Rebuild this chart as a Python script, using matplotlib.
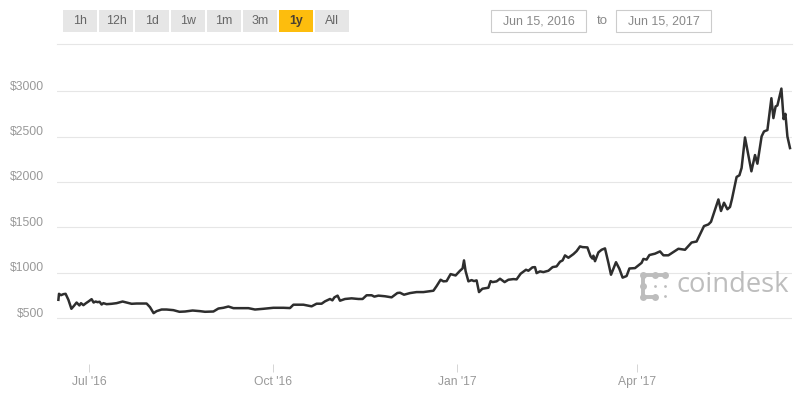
import matplotlib
matplotlib.use("Agg")
import matplotlib.pyplot as plt
import matplotlib.dates as mdates
from matplotlib.patches import Rectangle
from matplotlib.lines import Line2D
from matplotlib.transforms import ScaledTranslation
import numpy as np

plt.rcParams['font.family'] = ['Liberation Sans', 'DejaVu Sans']

# ---- data ----
start_date = "2016-06-15"
end_date_axis_days = 367.5
days_since_start = [
    0.7, 1, 2, 3.2, 4.3, 5.7, 7.2, 8.5, 9.8, 11.2, 12, 13.2, 14.5, 15.7, 17.3, 18.3, 19.3, 20.3, 21.3, 22.3,
    23.2, 24.8, 27.3, 29.8, 32.8, 34.8, 37.3, 39.8, 44.8, 46.5, 48.3, 49.8, 52.3, 54.8, 58.2, 61.2, 64, 67.8,
    71.5, 74, 78.2, 80.7, 83.2, 85.7, 88.2, 91.5, 95.7, 99, 103.2, 108.2, 113.2,
    116.5, 118.2, 123.2, 127.3, 129.8, 132.3, 134, 136.5, 137.7, 138.7, 140.3, 141.5, 144, 147.3, 150.7,
    152.8, 154.8, 157.3, 158.7, 160.7, 164, 167.3, 170.2,
    171.5, 173.5, 176.5, 179.8, 183.2, 188.2, 189.8, 191.8, 193.2, 194.8, 196.8, 199.3, 201.5, 202.8, 203.5,
    204.3, 205.7, 207.3, 208.5, 209.8, 211, 212.7, 215.7, 216.8, 217.8, 219.8, 221.5, 223.8, 225.7, 228.2,
    229.8, 231.8, 234.5, 235.7, 237.7, 239, 239.8, 241.5, 243.2, 245.7, 247.8, 249.8, 251.5, 252.8, 254,
    255.7, 258.2, 259.8, 261.5, 262.8, 265.2, 266.8, 267.7, 268.2, 269, 270.7, 272.3, 274, 275.7, 277,
    279.5, 281.2, 282.8, 284.8, 286.2, 289, 292.3, 293.2, 294.8, 296.2, 299, 301.5, 303.2, 305.7, 310.7,
    314, 317.3, 319.8, 323.5, 325.7, 327, 330.7, 332, 333.5, 335.2, 336.5, 337.5, 338.5, 339.8, 341.2,
    342.3, 344, 347.2, 349, 350.2, 352.3, 353.5, 355.2, 357.2, 358.2, 359.3, 360.2, 362.2, 363.3, 364.2,
    365.2, 366.5,
]
price_usd = [
    702, 768, 753, 764, 768, 702, 603, 636, 672, 640, 665, 643, 665, 683, 709, 672, 683, 676, 680, 650,
    665, 654, 658, 665, 683, 672, 658, 661, 661, 621, 555, 577, 595, 595, 588, 570, 573, 584,
    577, 570, 573, 606, 614, 628, 610, 610, 610, 595, 603, 614, 614,
    611, 648, 648, 630, 659, 659, 685, 711, 696, 729, 748, 692, 711, 718, 711,
    711, 752, 752, 737, 748, 741, 729, 777,
    780, 758, 776, 787, 787, 802, 853, 923, 905, 908, 985, 970, 1022, 1048, 1136,
    1018, 905, 919, 908, 916, 787, 824, 835, 908, 897, 905, 934, 897, 923, 930,
    927, 989, 1033, 1022, 1059, 1062, 996, 1015, 1007, 1022, 1062, 1070, 1121, 1136, 1191,
    1165, 1205, 1238, 1290, 1282, 1279, 1181, 1156, 1188, 1127, 1224, 1253, 1268, 1109, 978,
    1116, 1043, 946, 964, 1047, 1051, 1109, 1152, 1145, 1195, 1210, 1235, 1192, 1192, 1264,
    1253, 1333, 1344, 1514, 1532, 1561, 1807, 1680, 1771, 1699, 1724, 1813, 1920, 2055, 2073,
    2154, 2490, 2117, 2296, 2201, 2501, 2556, 2571, 2922, 2703, 2831, 2842, 3028, 2692, 2750,
    2501, 2373,
]
y_ticks = [500, 1000, 1500, 2000, 2500, 3000]
y_tick_labels = ["$500", "$1000", "$1500", "$2000", "$2500", "$3000"]
x_tick_dates = ["2016-07-01", "2016-10-01", "2017-01-01", "2017-04-01"]
x_tick_labels = ["Jul '16", "Oct '16", "Jan '17", "Apr '17"]
range_buttons = ["1h", "12h", "1d", "1w", "1m", "3m", "1y", "All"]
selected_button = "1y"
from_label = "Jun 15, 2016"
to_label = "Jun 15, 2017"

W, H = 800, 400
fig = plt.figure(figsize=(8, 4), dpi=100, facecolor="white")


def fx(px):
    return px / W


def fy(py):
    return 1 - py / H


ax = fig.add_axes([fx(57), fy(364), (792 - 57) / W, (364 - 44) / H])
t0 = mdates.datestr2num(start_date)
xs = t0 + np.array(days_since_start)
ax.set_xlim(t0, t0 + end_date_axis_days)
ax.set_ylim(-5, 3519)

GRID = "#e6e6e6"
for s in ("left", "right", "bottom"):
    ax.spines[s].set_visible(False)
ax.spines["top"].set_color(GRID)
ax.spines["top"].set_linewidth(0.8)

ax.set_yticks(y_ticks)
ax.set_yticklabels(y_tick_labels, fontsize=8.7, color="#999999")
ax.tick_params(axis="y", length=0, pad=9.5)
ax.yaxis.grid(True, color=GRID, linewidth=0.8)
ax.set_axisbelow(True)
shift = ScaledTranslation(0, 6 / 100, fig.dpi_scale_trans)
for lab in ax.get_yticklabels():
    lab.set_transform(lab.get_transform() + shift)

ax.set_xticks([mdates.datestr2num(d) for d in x_tick_dates])
ax.set_xticklabels(x_tick_labels, fontsize=8.7, color="#999999")
ax.tick_params(axis="x", length=6, width=0.7, color="#d5d5d5", pad=2.5)

ax.plot(xs, price_usd, color="#2e2e2e", linewidth=1.8, solid_joinstyle="round", zorder=3)

# range selector buttons
for i, name in enumerate(range_buttons):
    left = 63 + 36 * i
    sel = name == selected_button
    fig.add_artist(Rectangle((fx(left), fy(32)), 34 / W, 22 / H, transform=fig.transFigure,
                             facecolor="#fdbd0d" if sel else "#e6e6e6", edgecolor="none"))
    fig.text(fx(left + 17), fy(21), name, ha="center", va="center", fontsize=8.9,
             color="#4a4030" if sel else "#666666", fontweight="bold" if sel else "normal")

# date inputs
for left, label in ((491, from_label), (616, to_label)):
    fig.add_artist(Rectangle((fx(left), fy(32)), 94.5 / W, 22 / H, transform=fig.transFigure,
                             facecolor="white", edgecolor="#cccccc", linewidth=0.8))
    fig.text(fx(left + 47.5), fy(21), label, ha="center", va="center", fontsize=8.9, color="#888888")
fig.text(fx(602), fy(21.5), "to", ha="center", va="center", fontsize=9.5, color="#888888")

# coindesk watermark
LOGO = "#bdbdbd"
for pts in ([(643, 275), (665, 275)], [(643, 275), (643, 297)], [(643, 297), (655, 297)]):
    fig.add_artist(Line2D([fx(p[0]) for p in pts], [fy(p[1]) for p in pts], transform=fig.transFigure,
                          color=LOGO, linewidth=2.8, solid_capstyle="round", zorder=2))
for px, py in ((643, 275), (655, 275), (665, 275), (643, 286), (643, 297), (655, 297)):
    fig.add_artist(Line2D([fx(px)], [fy(py)], transform=fig.transFigure, marker="o", markersize=5.0,
                          color=LOGO, markeredgewidth=0, linestyle="none", zorder=2))
for px, py in ((655, 286), (665, 286), (665, 296)):
    fig.add_artist(Line2D([fx(px)], [fy(py)], transform=fig.transFigure, marker="o", markersize=2.0,
                          color=LOGO, markeredgewidth=0, linestyle="none", zorder=2))
fig.text(fx(676), fy(285), "coindesk", ha="left", va="center", fontsize=19.7, color=LOGO,
         family="Open Sans", zorder=2)

fig.savefig("out.png", dpi=100, facecolor="white")
